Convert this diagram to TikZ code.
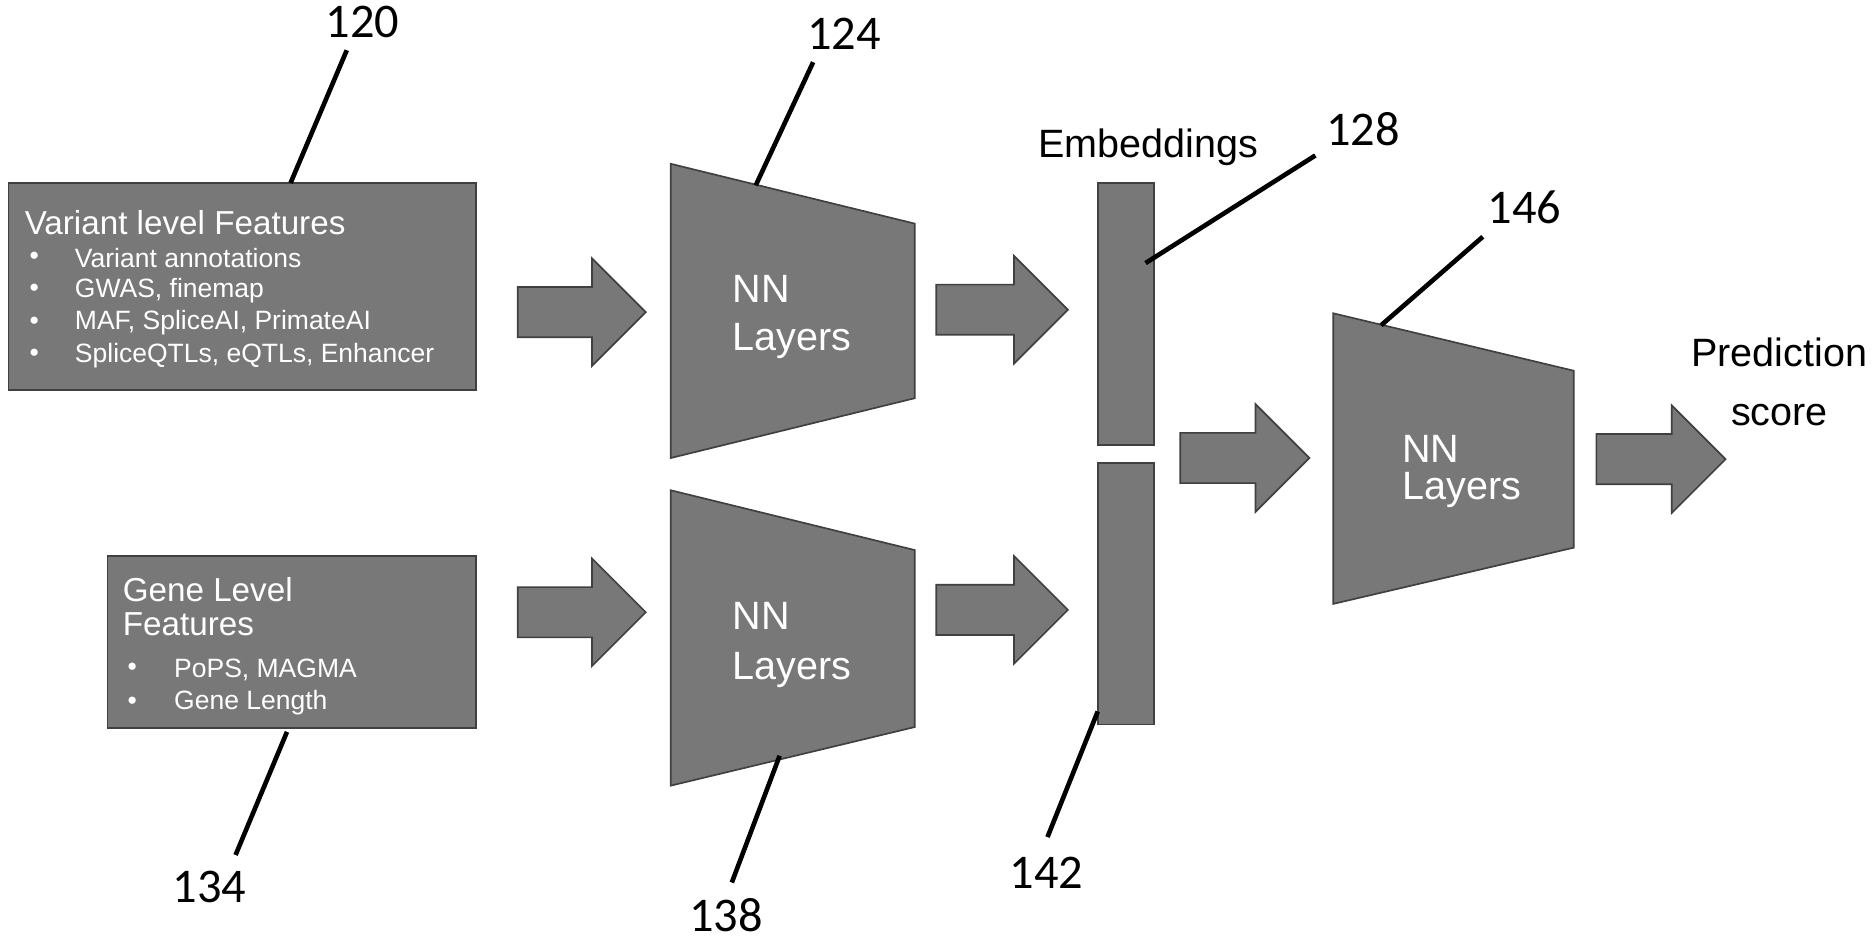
\documentclass[tikz,border=0pt]{standalone}
\usepackage{fontspec}
\setmainfont{Liberation Sans}
\newfontfamily\numfont{Carlito}
\begin{document}
\begin{tikzpicture}[x=0.01cm,y=-0.01cm,
  blk/.style={fill=black!53,draw=black!75,line width=0.4pt},
  tw/.style={text=white,inner sep=0pt},
  ttl/.style={tw,font=\fontsize{7.9}{9}\selectfont,anchor=west},
  bul/.style={tw,font=\fontsize{6.3}{7}\selectfont,anchor=west},
  nn/.style={tw,font=\fontsize{9.4}{11}\selectfont,anchor=west},
  num/.style={inner sep=0pt,font=\numfont\fontsize{11.5}{12}\selectfont},
  lead/.style={line width=1.1pt},
  lbl/.style={inner sep=0pt,font=\fontsize{9.4}{11}\selectfont},
  pics/barr/.style={code={\draw[blk] (0,-21) -- (#1-45,-21) -- (#1-45,-45) -- (#1,0) -- (#1-45,45) -- (#1-45,21) -- (0,21) -- cycle;}}]
\useasboundingbox (0,0) rectangle (1568,784);
% boxes
\draw[blk] (7,153) rectangle (398,326) coordinate (vb);
\node[ttl] at (20,186) {Variant level Features};
\foreach \yy/\tt in {216/Variant annotations,243/{GWAS, finemap},270/{MAF, SpliceAI, PrimateAI},297/{SpliceQTLs, eQTLs, Enhancer}}{
  \node[bul] at (24,\yy) {•}; \node[bul] at (62,\yy) {\tt};}
\draw[blk] (90,465) rectangle (398,609) coordinate (gb);
\node[ttl] at (102,493) {Gene Level};
\node[ttl] at (102,522) {Features};
\node[bul] at (106,560) {•}; \node[bul] at (145,560) {PoPS, MAGMA};
\node[bul] at (106,588) {•}; \node[bul] at (145,588) {Gene Length};
% arrows
\pic at (433,261) {barr=107};
\pic at (433,512) {barr=107};
\pic at (783,259) {barr=110};
\pic at (783,510) {barr=110};
\pic at (987,383) {barr=108};
\pic at (1335,384) {barr=108};
% trapezoids
\draw[blk] (561,137) -- (765,187) -- (765,333) -- (561,383) -- cycle;
\node[nn] at (612,242) {NN}; \node[nn] at (612,285) {Layers};
\draw[blk] (561,410) -- (765,460) -- (765,608) -- (561,657) -- cycle;
\node[nn] at (612,515) {NN}; \node[nn] at (612,560) {Layers};
\draw[blk] (1115,262) -- (1316,310) -- (1316,458) -- (1115,505) -- cycle;
\node[nn] at (1172,375) {NN}; \node[nn] at (1172,410) {Layers};
% embeddings
\draw[blk] (918,153) rectangle (965,372);
\draw[blk] (918,387) rectangle (965,606);
\node[lbl] at (960,123) {Embeddings};
\node[lbl,align=center] at (1488,319) {Prediction\\[3pt]score};
% reference numerals
\node[num] (n120) at (303,18) {120};
\node[num] (n124) at (706,28) {124};
\node[num] (n128) at (1140,108) {128};
\node[num] (n146) at (1275,173) {146};
\node[num] (n134) at (175,742) {134};
\node[num] (n138) at (607,765) {138};
\node[num] (n142) at (875,730) {142};
\coordinate (a120) at (243,153); \coordinate (b120) at (290,42);
\coordinate (a124) at (632,155); \coordinate (b124) at (680,52);
\coordinate (a128) at (958,220); \coordinate (b128) at (1100,130);
\coordinate (a146) at (1155,272); \coordinate (b146) at (1240,198);
\coordinate (a134) at (240,612); \coordinate (b134) at (197,715);
\coordinate (a138) at (652,632); \coordinate (b138) at (612,738);
\coordinate (a142) at (918,595); \coordinate (b142) at (876,700);
\foreach \n in {120,124,128,146,134,138,142}{\draw[lead] (a\n) -- (b\n);}
\end{tikzpicture}
\end{document}
